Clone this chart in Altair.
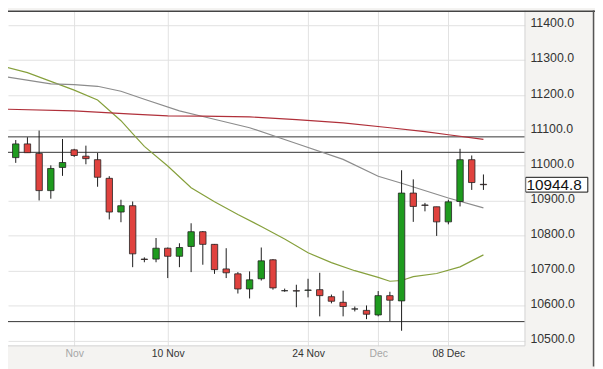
import altair as alt
import pandas as pd

# ---------------- data ----------------
# candle index: 0 = first November session
idx = list(range(-6, 36))
opens = [11007, 11022, 11061, 11034, 10928, 10994, 11044, 11026, 11016, 10963,
         10867, 10885, 10733, 10733, 10764, 10741, 10769, 10811, 10775, 10705,
         10691, 10648, 10677, 10731, 10643, 10643, 10644, 10646, 10626, 10610,
         10591, 10587, 10574, 10629, 10614, 10921, 10887, 10882, 10839, 10897,
         11016, 10946]
highs = [11025, 11072, 11080, 11099, 11000, 11075, 11047, 11056, 11035, 10969,
         10902, 10897, 10738, 10793, 10766, 10778, 10835, 10813, 10776, 10764,
         10696, 10698, 10766, 10733, 10649, 10660, 10677, 10694, 10632, 10643,
         10598, 10601, 10642, 10640, 10986, 10960, 10893, 10882, 10902, 11047,
         11028, 10974]
lows = [10998, 11007, 11036, 10900, 10905, 10970, 11024, 11003, 10939, 10846,
        10838, 10710, 10724, 10724, 10679, 10710, 10696, 10717, 10691, 10679,
        10635, 10621, 10672, 10646, 10640, 10596, 10624, 10570, 10607, 10570,
        10584, 10562, 10570, 10556, 10529, 10839, 10869, 10799, 10832, 10883,
        10930, 10930]
closes = [11019, 11061, 11036, 10928, 10991, 11008, 11028, 11019, 10966, 10867,
          10885, 10748, 10732, 10764, 10741, 10766, 10811, 10775, 10703, 10694,
          10648, 10674, 10728, 10651, 10643, 10642, 10645, 10629, 10613, 10598,
          10591, 10576, 10629, 10616, 10921, 10883, 10886, 10839, 10896, 11016,
          10951, 10944.8]

fast_k = [-6, -4, -2, 0, 2, 4, 5, 6, 8, 10, 12, 14, 16, 18, 20, 22, 24, 26, 27, 28, 29, 31, 33, 35]
fast_v = [11281, 11264, 11239, 11214, 11186, 11127, 11090, 11054, 10998, 10936, 10896, 10860,
          10826, 10790, 10751, 10723, 10700, 10681, 10670, 10672, 10683, 10692, 10711, 10745]

mid_k = [-6, -2, 0, 2, 4, 6, 9, 11, 15, 19, 23, 26, 28, 32, 35]
mid_v = [11253, 11232, 11230, 11225, 11211, 11188, 11155, 11139, 11107, 11062, 11017,
         10969, 10949, 10907, 10879]

slow_k = [-6, 0, 5, 8, 11, 15, 19, 23, 27, 30, 32, 35]
slow_v = [11160, 11155, 11146, 11141, 11140, 11138, 11130, 11121, 11107, 11096, 11087, 11074]

levels = [11081, 11037, 10555]
last_price = 10944.8

y_ticks = [10500, 10600, 10700, 10800, 10900, 11000, 11100, 11200, 11300, 11400]
x_tick_pos = [0, 8, 20, 26, 32]
x_tick_text = ["Nov", "10 Nov", "24 Nov", "Dec", "08 Dec"]
x_tick_muted = [0, 26]

# ---------------- layout ----------------
W, H = 524, 340
x_dom = [-5.24, 38.13]
y_dom = [10486, 11441]

xs = alt.Scale(domain=x_dom, nice=False, zero=False)
ys = alt.Scale(domain=y_dom, nice=False, zero=False)

label_expr = " : ".join(
    f"datum.value == {p} ? '{t}'" for p, t in zip(x_tick_pos, x_tick_text)
) + " : ''"
muted_test = " || ".join(f"datum.value == {p}" for p in x_tick_muted)

x_axis = alt.Axis(
    values=x_tick_pos, labelExpr=label_expr, title=None, grid=True,
    gridColor="#e2e2e2", gridWidth=1, domain=False, ticks=False, tickSize=0,
    labelPadding=7.5, labelBaseline="middle", labelFontSize=10.5,
    labelFont="Liberation Sans", labelOverlap=False,
    labelColor={"condition": {"test": muted_test, "value": "#a6a6a6"}, "value": "#333333"},
)
y_axis = alt.Axis(
    values=y_ticks, format=".1f", orient="right", title=None, grid=True,
    gridColor="#e2e2e2", gridWidth=1, domain=False, ticks=False, tickSize=0,
    labelPadding=5, labelBaseline="middle", labelFontSize=12.5,
    labelFont="Liberation Sans", labelColor="#333333", labelOffset=-2,
    labelOverlap=False,
)


def X(field):
    return alt.X(field, type="quantitative", scale=xs, axis=x_axis)


def Y(field):
    return alt.Y(field, type="quantitative", scale=ys, axis=y_axis)


candles = pd.DataFrame({"k": idx, "open": opens, "high": highs, "low": lows, "close": closes})

ma = pd.concat([
    pd.DataFrame({"k": fast_k, "v": fast_v, "s": "fast"}),
    pd.DataFrame({"k": mid_k, "v": mid_v, "s": "mid"}),
    pd.DataFrame({"k": slow_k, "v": slow_v, "s": "slow"}),
])

lev = pd.DataFrame({"v": levels})
tag = pd.DataFrame({"v": [last_price], "t": [f"{last_price:.1f}"]})
one = pd.DataFrame({"a": [0]})

level_rules = alt.Chart(lev).mark_rule(color="#333333", strokeWidth=1).encode(y=Y("v"))

ma_lines = alt.Chart(ma).mark_line(strokeWidth=1.2, clip=True).encode(
    x=X("k"), y=Y("v"),
    stroke=alt.Stroke("s:N", scale=alt.Scale(domain=["fast", "mid", "slow"],
                                             range=["#86a03c", "#8c8c8c", "#b0303a"]),
                      legend=None),
    detail="s:N",
)

wicks = alt.Chart(candles).mark_rule(color="#1a1a1a", strokeWidth=1, clip=True).encode(
    x=X("k"), y=Y("low"), y2="high"
)

bodies = alt.Chart(candles).mark_bar(size=6.5, stroke="#222222", strokeWidth=0.8, clip=True).encode(
    x=X("k"), y=Y("open"), y2="close",
    fill=alt.condition("datum.close >= datum.open", alt.value("#1e9b1e"), alt.value("#e0423e")),
)

tag_box = alt.Chart(tag).mark_point(
    shape="M-1,-0.238L1,-0.238L1,0.238L-1,0.238Z", size=63 ** 2, filled=True,
    fill="white", stroke="#111111", strokeWidth=1, opacity=1, fillOpacity=1,
).encode(x=alt.value(556.2), y=Y("v"))

tag_text = alt.Chart(tag).mark_text(
    align="left", baseline="middle", fontSize=15.5, font="Liberation Sans", color="#111111",
).encode(x=alt.value(525.5), y=Y("v"), text="t:N")

plot_right = alt.Chart(one).mark_rule(color="#d2d2d2", strokeWidth=1).encode(
    x=alt.value(524), y=alt.value(0), y2=alt.value(340)
)
plot_bottom = alt.Chart(one).mark_rule(color="#d2d2d2", strokeWidth=1).encode(
    x=alt.value(0), x2=alt.value(524), y=alt.value(340)
)
top_border = alt.Chart(one).mark_rule(color="#444444", strokeWidth=1.5).encode(
    x=alt.value(0), x2=alt.value(595), y=alt.value(0.75)
)
right_border = alt.Chart(one).mark_rule(color="#555555", strokeWidth=1.5).encode(
    x=alt.value(593.5), y=alt.value(0), y2=alt.value(361)
)

chart = alt.layer(
    level_rules, ma_lines, wicks, bodies, tag_box, tag_text,
    plot_right, plot_bottom, top_border, right_border
).properties(
    width=W, height=H,
    padding={"left": 0, "top": 0, "right": 71, "bottom": 21},
    autosize=alt.AutoSizeParams(type="none"),
    background="#f4f3f1",
).configure_view(fill="white", stroke=None)

chart.save("out.html", embed_options={"renderer": "svg", "actions": False})
